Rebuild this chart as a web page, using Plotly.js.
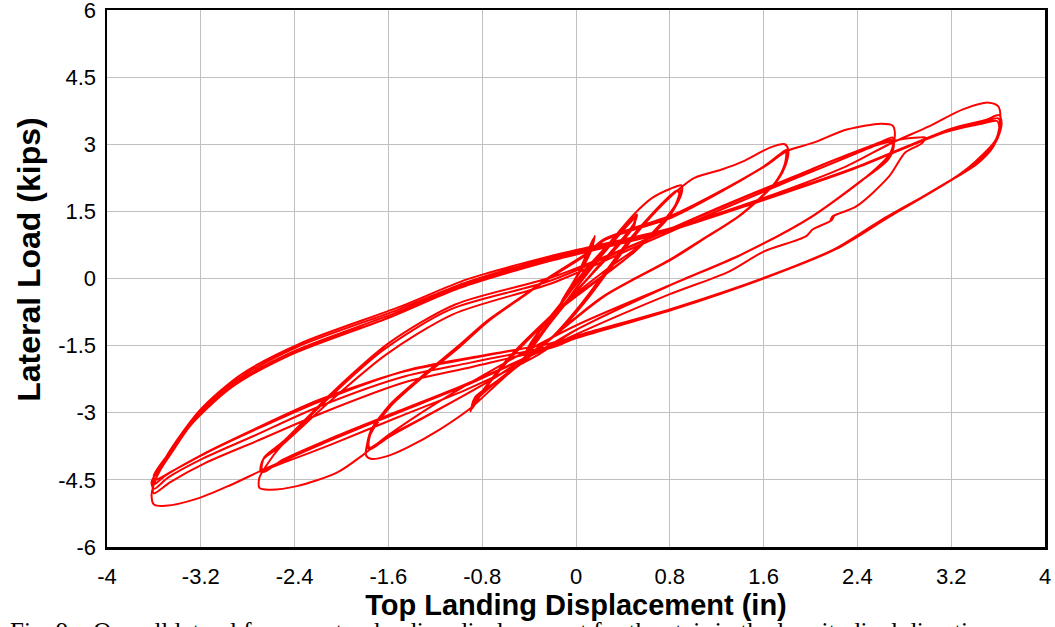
<!DOCTYPE html>
<html>
<head>
<meta charset="utf-8">
<script src="https://cdn.plot.ly/plotly-3.0.1.min.js"></script>
<style>
html,body{margin:0;padding:0;background:#fff;}
#chart{width:1055px;height:627px;}
</style>
</head>
<body>
<div id="chart"></div>
<script>
// Tick values / labels
const xTicks = [-4, -3.2, -2.4, -1.6, -0.8, 0, 0.8, 1.6, 2.4, 3.2, 4];
const xTickText = ["-4", "-3.2", "-2.4", "-1.6", "-0.8", "0", "0.8", "1.6", "2.4", "3.2", "4"];
const yTicks = [-6, -4.5, -3, -1.5, 0, 1.5, 3, 4.5, 6];
const yTickText = ["-6", "-4.5", "-3", "-1.5", "0", "1.5", "3", "4.5", "6"];

// Tiny initial cycles (+/-0.15 in)
const dispTiny = [0, 0.05, 0.1, 0.15, 0.14, 0.08, 0.0, -0.08, -0.15, -0.12, -0.04, 0.05, 0.12, 0.16, 0.14, 0.06, -0.03, -0.12, -0.18, -0.14, -0.05];
const loadTiny = [0, 0.3, 0.6, 0.9, 0.7, 0.35, 0.0, -0.35, -0.7, -0.5, -0.15, 0.25, 0.6, 0.95, 0.72, 0.3, -0.15, -0.55, -0.85, -0.6, -0.25];

// 0.5 in cycles
const disp05 = [0.05, 0.2, 0.35, 0.47, 0.52, 0.5, 0.4, 0.25, 0.1, -0.08, -0.25, -0.38, -0.45, -0.43, -0.32, -0.15, 0.02, 0.2, 0.36, 0.48, 0.51, 0.48, 0.35, 0.18, 0.0, -0.18, -0.33, -0.44, -0.42, -0.3, -0.12, 0.05, 0.22, 0.38, 0.5, 0.5, 0.45, 0.3, 0.12, -0.05, -0.22, -0.36, -0.44, -0.4, -0.25, -0.05];
const load05 = [0.1, 0.55, 0.95, 1.3, 1.43, 1.25, 0.9, 0.45, 0.0, -0.5, -1.05, -1.55, -1.9, -1.7, -1.3, -0.75, -0.15, 0.45, 0.95, 1.3, 1.38, 1.15, 0.75, 0.25, -0.3, -0.85, -1.35, -1.8, -1.6, -1.15, -0.55, 0.05, 0.6, 1.05, 1.36, 1.2, 1.0, 0.55, 0.05, -0.45, -1.0, -1.5, -1.78, -1.5, -0.95, -0.3];

// 0.9 in cycles
const disp09 = [0.15, 0.35, 0.5, 0.65, 0.8, 0.9, 0.9, 0.8, 0.55, 0.26, -0.03, -0.31, -0.55, -0.75, -0.88, -0.9, -0.88, -0.72, -0.54, -0.2, 0.05, 0.25, 0.45, 0.65, 0.85, 0.89, 0.86, 0.72, 0.5, 0.22, -0.08, -0.35, -0.6, -0.78, -0.89, -0.87, -0.7, -0.5, -0.18, 0.07, 0.27, 0.47, 0.67, 0.86, 0.88, 0.84, 0.68, 0.45, 0.18, -0.12, -0.4, -0.65, -0.8, -0.89, -0.86, -0.68, -0.48, -0.15, 0.1, 0.3, 0.5, 0.7, 0.88];
const load09 = [0.35, 1.0, 1.45, 1.8, 2.0, 2.08, 1.9, 1.4, 0.75, 0.2, -0.4, -1.07, -1.7, -2.35, -2.85, -2.97, -2.8, -2.4, -2.05, -1.3, -0.55, 0.15, 0.85, 1.45, 1.95, 1.98, 1.7, 1.2, 0.6, 0.05, -0.55, -1.2, -1.9, -2.45, -2.9, -2.7, -2.35, -1.95, -1.25, -0.5, 0.2, 0.9, 1.5, 1.95, 1.92, 1.6, 1.1, 0.5, -0.05, -0.65, -1.35, -2.05, -2.55, -2.92, -2.65, -2.3, -1.9, -1.2, -0.45, 0.25, 0.95, 1.55, 2.0];

// 1.8 in cycles
const disp18 = [1.01, 1.25, 1.42, 1.66, 1.78, 1.81, 1.79, 1.72, 1.42, 1.1, 0.83, 0.5, 0.24, -0.22, -0.65, -0.9, -1.16, -1.44, -1.61, -1.75, -1.79, -1.77, -1.73, -1.58, -1.3, -1.0, -0.76, -0.45, -0.2, 0.1, 0.24, 0.83, 1.28, 1.6, 1.76, 1.8, 1.79, 1.72, 1.42, 1.1, 0.83, 0.24, -0.22, -0.65, -1.22, -1.6, -1.76, -1.78, -1.75, -1.58, -1.3, -1.0, -0.76, -0.45, -0.2, 0.1, 0.24, 0.83, 1.28, 1.6, 1.76, 1.79, 1.78, 1.7, 1.4, 1.08, 0.8, 0.22, -0.24, -0.67, -1.24, -1.6, -1.76, -1.77, -1.74, -1.57, -1.28, -0.98, -0.74, -0.43, -0.18, 0.12, 0.26, 0.85, 1.3, 1.62, 1.8];
const load18 = [2.25, 2.44, 2.61, 2.93, 3.0, 2.88, 2.55, 2.2, 1.45, 0.9, 0.45, 0.0, -0.4, -1.35, -2.3, -2.9, -3.37, -3.78, -3.97, -4.03, -3.95, -3.6, -3.37, -2.85, -2.19, -1.55, -0.98, -0.4, 0.05, 0.55, 0.85, 1.38, 2.0, 2.5, 2.82, 2.88, 2.6, 2.2, 1.45, 0.9, 0.45, -0.4, -1.35, -2.15, -3.0, -3.55, -3.82, -3.75, -3.4, -2.8, -2.15, -1.5, -0.95, -0.38, 0.08, 0.58, 0.88, 1.42, 2.02, 2.5, 2.8, 2.82, 2.55, 2.15, 1.42, 0.88, 0.42, -0.42, -1.38, -2.18, -3.02, -3.52, -3.78, -3.7, -3.38, -2.78, -2.12, -1.48, -0.93, -0.35, 0.1, 0.6, 0.9, 1.45, 2.05, 2.52, 2.85];

// 2.7 in cycles and 3.0 in excursion
const disp27 = [2.02, 2.31, 2.6, 2.7, 2.72, 2.68, 2.49, 2.02, 1.42, 0.8, 0.0, -0.65, -1.2, -1.6, -1.81, -2.04, -2.38, -2.62, -2.7, -2.7, -2.62, -2.54, -2.12, -1.64, -1.07, -0.22, 0.5, 1.2, 1.8, 2.3, 2.6, 2.7, 2.71, 2.66, 2.49, 2.02, 1.42, 0.8, 0.0, -0.3, -0.93, -1.5, -2.07, -2.5, -2.66, -2.69, -2.67, -2.52, -2.1, -1.62, -1.05, -0.2, 0.52, 1.22, 1.82, 2.32, 2.6, 2.69, 2.7, 2.64, 2.47, 2.0, 1.4, 0.78, -0.02, -0.32, -0.95, -1.52, -2.08, -2.5, -2.66, -2.68, -2.66, -2.5, -2.08, -1.6, -1.03, -0.18, 0.55, 1.25, 1.85, 2.35, 2.62, 2.8, 2.92, 2.98, 2.95, 2.81, 2.67, 2.39, 2.19, 2.17, 2.2, 2.18, 2.02, 1.96, 1.6, 1.3, 0.8, 0.0];
const load27 = [3.03, 3.33, 3.46, 3.42, 3.22, 2.8, 2.3, 1.4, 0.55, -0.15, -1.05, -1.95, -2.8, -3.5, -3.93, -4.34, -4.64, -4.72, -4.68, -4.45, -4.1, -3.82, -2.7, -1.59, -0.69, -0.05, 0.75, 1.55, 2.2, 2.75, 3.05, 3.15, 2.95, 2.65, 2.3, 1.4, 0.55, -0.15, -1.15, -1.6, -2.35, -2.95, -3.55, -4.05, -4.32, -4.3, -4.05, -3.75, -2.75, -1.7, -0.8, -0.1, 0.72, 1.52, 2.18, 2.72, 3.02, 3.1, 2.9, 2.6, 2.25, 1.36, 0.52, -0.18, -1.18, -1.7, -2.5, -3.1, -3.7, -4.12, -4.27, -4.25, -4.0, -3.65, -2.55, -1.45, -0.58, 0.05, 0.82, 1.62, 2.27, 2.8, 3.02, 3.12, 3.15, 3.15, 3.02, 2.82, 2.28, 1.61, 1.39, 1.3, 1.4, 1.3, 1.1, 0.94, 0.6, 0.15, -0.35, -1.25];

// 3.7 in cycles
const disp37 = [-0.3, -0.95, -1.52, -2.08, -2.5, -2.69, -2.95, -3.23, -3.5, -3.6,
  -3.62, -3.6, -3.52, -3.4, -3.2, -2.86, -2.35, -1.5, -0.93, -0.22, 0.8, 1.6, 2.3, 2.67, 3.01, 3.3, 3.52, 3.6, 3.62,
  3.58, 3.4, 3.2, 2.6, 2.2, 1.6, 0.8, 0.0, -0.22, -0.93, -1.5, -2.2, -2.77, -3.2, -3.5, -3.6,
  -3.61, -3.53, -3.41, -3.22, -2.88, -2.38, -1.52, -0.95, -0.24, 0.78, 1.58, 2.4, 3.2, 3.5, 3.61,
  3.63, 3.58, 3.42, 3.2, 2.62, 2.22, 1.62, 0.82, 0.02, -0.2, -0.9, -1.48, -2.18, -2.75, -3.18, -3.48, -3.6,
  -3.62, -3.54, -3.43, -3.25, -2.9, -2.4, -1.55, -0.97, -0.26, 0.76, 1.56, 2.38, 3.18, 3.48, 3.6,
  3.62, 3.57, 3.42, 3.22, 2.64, 2.24, 1.64, 0.84, 0.04, -0.18, -0.88, -1.46, -2.16, -2.73, -3.16, -3.46, -3.6,
  -3.61, -3.55, -3.45, -3.28, -2.93, -2.43, -1.58, -1.0, -0.28, 0.74, 1.54, 2.36, 3.16, 3.46, 3.59,
  3.61, 3.56, 3.42, 3.24, 2.66, 2.26, 1.66, 0.86, 0.06, -0.16, -0.86, -1.44, -2.14, -2.71, -3.14, -3.44, -3.59, -3.6, -3.5];
const load37 = [-1.62, -2.4, -3.0, -3.6, -4.08, -4.3, -4.62, -4.92, -5.08, -5.05,
  -4.85, -4.6, -4.1, -3.6, -2.92, -2.15, -1.45, -0.63, -0.02, 0.5, 1.12, 1.8, 2.5, 3.0, 3.4, 3.78, 3.93, 3.85, 3.6,
  3.1, 2.6, 2.2, 1.3, 0.65, 0.0, -0.7, -1.3, -1.45, -1.8, -2.1, -2.72, -3.4, -3.95, -4.4, -4.6,
  -4.5, -4.12, -3.68, -3.02, -2.24, -1.53, -0.7, -0.1, 0.45, 1.08, 1.76, 2.5, 3.35, 3.55, 3.65,
  3.45, 3.05, 2.6, 2.2, 1.3, 0.66, 0.02, -0.7, -1.32, -1.5, -1.88, -2.2, -2.85, -3.52, -4.02, -4.45, -4.7,
  -4.55, -4.2, -3.78, -3.12, -2.32, -1.62, -0.78, -0.16, 0.4, 1.05, 1.73, 2.47, 3.32, 3.5, 3.58,
  3.4, 3.0, 2.58, 2.24, 1.34, 0.7, 0.05, -0.66, -1.28, -1.52, -1.97, -2.32, -3.0, -3.64, -4.12, -4.55, -4.8,
  -4.65, -4.3, -3.9, -3.26, -2.42, -1.7, -0.86, -0.22, 0.35, 1.02, 1.7, 2.44, 3.28, 3.46, 3.52,
  3.35, 2.95, 2.56, 2.26, 1.36, 0.72, 0.07, -0.64, -1.24, -1.42, -1.75, -2.05, -2.7, -3.35, -3.88, -4.3, -4.5, -4.4, -4.0];

const disp = [].concat(dispTiny, disp05, disp09, disp18, disp27, disp37);
const load = [].concat(loadTiny, load05, load09, load18, load27, load37);

const trace = {
  x: disp, y: load, type: 'scatter', mode: 'lines',
  line: {color: '#ff0000', width: 2, shape: 'spline', smoothing: 0.8},
  hoverinfo: 'skip'
};

const font = "Arial, 'Liberation Sans', sans-serif";
const layout = {
  width: 1055, height: 627,
  margin: {l: 107, r: 10, t: 10, b: 80},
  paper_bgcolor: '#ffffff', plot_bgcolor: '#ffffff',
  showlegend: false,
  font: {family: font, color: '#000000', size: 22},
  xaxis: {
    range: [-4, 4], tickmode: 'array', tickvals: xTicks, ticktext: xTickText,
    showgrid: true, gridcolor: '#c0c0c0', gridwidth: 1,
    zeroline: false, showline: true, linecolor: '#000000', linewidth: 2.5, mirror: true,
    ticks: '', ticklabelstandoff: 8, ticklabeloverflow: 'allow',
    tickfont: {family: font, size: 22, color: '#000'},
    title: {text: '<b>Top Landing Displacement (in)</b>', font: {family: font, size: 29, color: '#000'}, standoff: 1}
  },
  yaxis: {
    range: [-6, 6], tickmode: 'array', tickvals: yTicks, ticktext: yTickText,
    showgrid: true, gridcolor: '#c0c0c0', gridwidth: 1,
    zeroline: false, showline: true, linecolor: '#000000', linewidth: 2.5, mirror: true,
    ticks: '', ticklabelstandoff: 4, ticklabeloverflow: 'allow',
    tickfont: {family: font, size: 22, color: '#000'}
  },
  annotations: [{
    text: '<b>Lateral Load (kips)</b>', textangle: -90,
    xref: 'paper', yref: 'paper', x: -0.083, y: 0.535, xanchor: 'center', yanchor: 'middle',
    showarrow: false, font: {family: font, size: 32, color: '#000'}
  }, {
    text: 'Fig. 9 \u2013 Overall lateral force vs. top landing displacement for the stair in the longitudinal direction',
    xref: 'paper', yref: 'paper', x: -0.106, y: -0.128, xanchor: 'left', yanchor: 'top',
    showarrow: false, font: {family: "'Liberation Serif', 'Times New Roman', serif", size: 25, color: '#000'}
  }]
};

Plotly.newPlot('chart', [trace], layout, {staticPlot: true, displayModeBar: false});
</script>
</body>
</html>
